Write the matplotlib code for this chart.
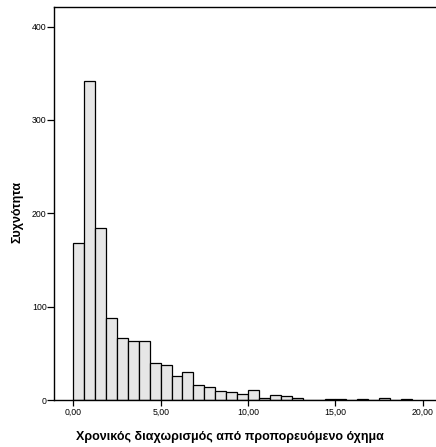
import numpy as np
import matplotlib
matplotlib.use("Agg")
from matplotlib import pyplot as plt

# histogram counts, bin width 0.625 starting at 0
bin_width = 0.625
counts = [168, 342, 184, 88, 66, 63, 63, 40, 38, 26, 30, 16, 14, 10, 9, 6,
          11, 2, 5, 4, 2, 0, 0, 1, 1, 0, 1, 0, 2, 0, 1]
x_ticks = [0, 5, 10, 15, 20]
x_tick_labels = ["0,00", "5,00", "10,00", "15,00", "20,00"]
y_ticks = [0, 100, 200, 300, 400]

plt.rcParams['font.family'] = ['Liberation Sans', 'DejaVu Sans']

fig = plt.figure(figsize=(4.36, 4.47), dpi=100)
W, H = 436, 447
ax = fig.add_axes([54 / W, (H - 400) / H, (436 - 54) / W, (400 - 7) / H])

edges = np.arange(len(counts)) * bin_width
ax.bar(edges, counts, width=bin_width, align='edge',
       color='#e6e6e6', edgecolor='black', linewidth=0.9)

ax.set_xlim(-1.1, 20.75)
ax.set_ylim(0, 421)
ax.set_xticks(x_ticks)
ax.set_xticklabels(x_tick_labels)
ax.set_yticks(y_ticks)
ax.tick_params(axis='both', direction='out', width=0.9, labelsize=6.3)
ax.tick_params(axis='y', length=5, pad=0.3)
ax.tick_params(axis='x', length=4.3, pad=1.5)

ax.spines['right'].set_visible(False)
for s in ['left', 'top', 'bottom']:
    ax.spines[s].set_linewidth(1.0)
    ax.spines[s].set_color('black')

ax.set_xlabel("Χρονικός διαχωρισμός από προπορευόμενο όχημα",
              fontsize=9, fontweight='bold')
ax.set_ylabel("Συχνότητα", fontsize=9, fontweight='bold')
ax.xaxis.set_label_coords((230 - 54) / (436 - 54), -(431 - 400) / (400 - 7))
ax.yaxis.set_label_coords(-(54 - 24) / (436 - 54), (400 - 212) / (400 - 7))

fig.savefig("out.png", dpi=100)
